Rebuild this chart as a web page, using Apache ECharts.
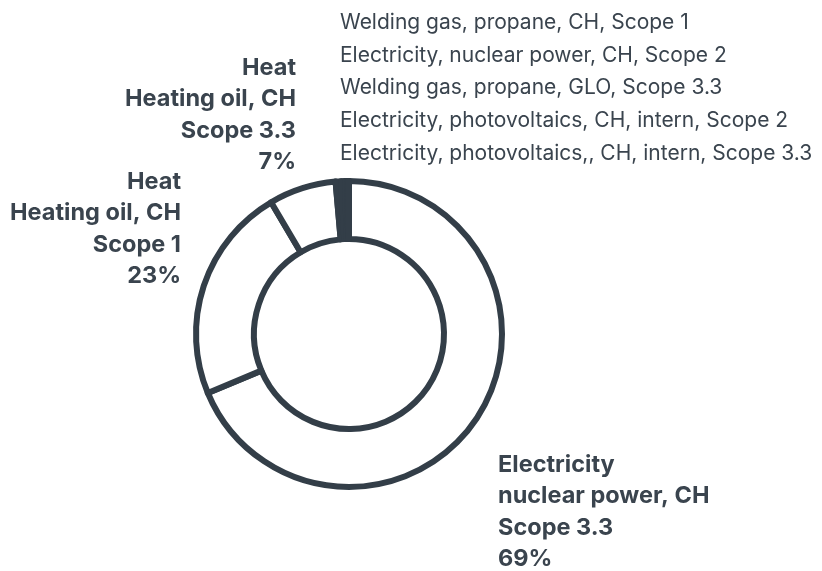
<!DOCTYPE html>
<html>
<head>
<meta charset="utf-8">
<script src="https://cdn.jsdelivr.net/npm/echarts@6/dist/echarts.min.js"></script>
<style>
  html, body { margin: 0; padding: 0; background: #fff; }
  #chart { width: 822px; height: 571px; }
</style>
</head>
<body>
<div id="chart"></div>
<script>
  // slices, clockwise from 12 o'clock
  const sliceNames = [
    'Electricity\nnuclear power, CH\nScope 3.3',
    'Heat\nHeating oil, CH\nScope 1',
    'Heat\nHeating oil, CH\nScope 3.3',
    'Welding gas, propane, CH, Scope 1',
    'Electricity, nuclear power, CH, Scope 2',
    'Welding gas, propane, GLO, Scope 3.3',
    'Electricity, photovoltaics, CH, intern, Scope 2',
    'Electricity, photovoltaics,, CH, intern, Scope 3.3',
  ];
  const sliceValues = [68.7, 22.8, 7.1, 0.6, 0.4, 0.25, 0.1, 0.05];
  // first three get the big bold label with percent, rest go in the list
  const bigCount = 3;

  const INK = '#333e48';
  const TEXT = '#3a444e';
  const FONT = 'Inter, "Noto Sans", sans-serif';

  const chart = echarts.init(document.getElementById('chart'), null, { renderer: 'canvas' });

  function labelPos(idx) {
    if (idx === 0) return { x: 498, y: 449, align: 'left' };
    if (idx === 1) return { x: 181, y: 166, align: 'right' };
    if (idx === 2) return { x: 296, y: 52, align: 'right' };
    return { x: 340, y: 6 + (idx - bigCount) * 32.8, align: 'left' };
  }

  chart.setOption({
    animation: false,
    series: [{
      type: 'pie',
      center: [349, 334],
      radius: [95, 153],
      startAngle: 90,
      clockwise: true,
      avoidLabelOverlap: false,
      minShowLabelAngle: 0,
      itemStyle: { color: '#fff', borderColor: INK, borderWidth: 6 },
      emphasis: { disabled: true },
      labelLine: { show: false },
      label: {
        show: true,
        position: 'outside',
        fontFamily: FONT,
        color: TEXT,
        formatter: p => p.dataIndex < bigCount
          ? p.name + '\n' + Math.round(p.percent) + '%'
          : p.name,
      },
      labelLayout: params => {
        const pos = labelPos(params.dataIndex);
        return {
          x: pos.x,
          y: pos.y,
          align: pos.align,
          verticalAlign: 'top',
        };
      },
      data: sliceNames.map((n, i) => ({
        name: n,
        value: sliceValues[i],
        label: i < bigCount
          ? { fontSize: 23.5, fontWeight: 'bold', lineHeight: 31.5, align: i === 0 ? 'left' : 'right' }
          : { fontSize: 21, fontWeight: 'normal', lineHeight: 32.8, align: 'left' },
      })),
    }],
  });
</script>
</body>
</html>
